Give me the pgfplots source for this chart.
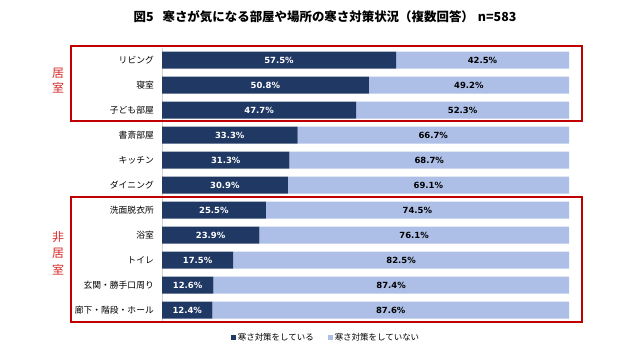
\documentclass[border=0pt]{standalone}
\usepackage{fontspec}
\setmainfont{Noto Sans CJK JP}
\newfontfamily\numfont{DejaVu Sans}
\usepackage{pgfplots}
\pgfplotsset{compat=1.18}
\usepackage{pgfplotstable}
\definecolor{dark}{HTML}{203864}
\definecolor{light}{HTML}{ADBFE6}
\definecolor{boxred}{HTML}{C00000}
\definecolor{txtred}{HTML}{D42A2A}

\pgfplotstableread{
idx yes no
0 57.5 42.5
1 50.8 49.2
2 47.7 52.3
3 33.3 66.7
4 31.3 68.7
5 30.9 69.1
6 25.5 74.5
7 23.9 76.1
8 17.5 82.5
9 12.6 87.4
10 12.4 87.6
}\datatable

\begin{document}
\begin{tikzpicture}
\path[use as bounding box] (0bp,0bp) rectangle (640bp,360bp);
\begin{axis}[
  at={(162bp,37.5bp)}, anchor=south west,
  scale only axis, width=407bp, height=275bp,
  xbar stacked, bar width=17bp,
  xmin=0, xmax=100, ymin=-0.5, ymax=10.5,
  y dir=reverse,
  axis x line=none, axis y line*=left,
  y axis line style={draw=gray!35, line width=0.6bp},
  ytick={0,...,10},
  yticklabels={リビング,寝室,子ども部屋,書斎部屋,キッチン,ダイニング,洗面脱衣所,浴室,トイレ,玄関・勝手口周り,廊下・階段・ホール},
  major tick length=0pt,
  yticklabel style={font=\fontsize{8.8}{10}\selectfont, inner sep=0pt, xshift=-8bp},
  legend style={draw=none, legend columns=2, font=\fontsize{8.5}{10}\selectfont,
    at={(0.403,-0.056)}, anchor=center,
    /tikz/every even column/.append style={column sep=12bp}},
  legend image code/.code={\fill[#1] (0bp,-2.5bp) rectangle (5bp,2.5bp);},
]
\addplot[fill=dark, draw=none] table[x=yes, y=idx] {\datatable};
\addlegendentry{寒さ対策をしている}
\addplot[fill=light, draw=none] table[x=no, y=idx] {\datatable};
\addlegendentry{寒さ対策をしていない}
\end{axis}
\begin{axis}[
  at={(162bp,37.5bp)}, anchor=south west,
  scale only axis, width=407bp, height=275bp,
  xmin=0, xmax=100, ymin=-0.5, ymax=10.5,
  y dir=reverse, axis lines=none,
  /pgf/number format/assume math mode=true,
  nodes near coords={\pgfmathprintnumber[fixed, precision=1, fixed zerofill, assume math mode=true]{\pgfplotspointmeta}\%},
  point meta=explicit,
  every node near coord/.append style={anchor=center, font=\numfont\bfseries\fontsize{8.5}{10}\selectfont},
]
\addplot[draw=none, mark=none, nodes near coords style={text=white}] table[x expr=\thisrow{yes}/2, y=idx, meta=yes] {\datatable};
\addplot[draw=none, mark=none, nodes near coords style={text=black}] table[x expr=\thisrow{yes}+\thisrow{no}/2, y=idx, meta=no] {\datatable};
\end{axis}
% red group boxes
\draw[boxred, line width=2bp] (70.5bp,313.5bp) rectangle (582bp,238.5bp);
\draw[boxred, line width=2bp] (70.5bp,162.5bp) rectangle (582bp,38bp);
\begin{scope}[every node/.style={text=txtred, font=\fontsize{12}{12}\selectfont, inner sep=0pt}]
\node at (58bp,287bp) {居};
\node at (58bp,272bp) {室};
\node at (58bp,123bp) {非};
\node at (58bp,107bp) {居};
\node at (58bp,90bp) {室};
\end{scope}
\node[font=\bfseries\fontsize{12.5}{14}\selectfont, inner sep=0pt] at (325bp,343bp) {図5\hspace{9bp}寒さが気になる部屋や場所の寒さ対策状況（複数回答）\hspace{4bp}n=583};
\end{tikzpicture}
\end{document}
